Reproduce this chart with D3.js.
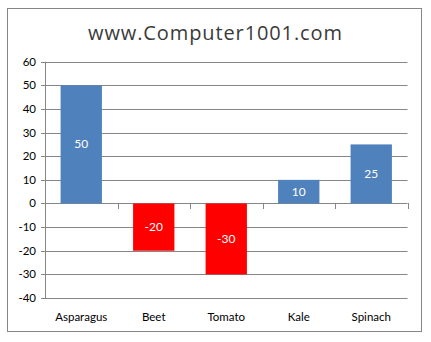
<!DOCTYPE html>
<html>
<head>
<meta charset="utf-8">
<script src="https://cdn.jsdelivr.net/npm/d3@7"></script>
<style>
  body { margin: 0; background: #fff; }
  text { font-family: Lato, "Open Sans", sans-serif; }
</style>
</head>
<body>
<div id="chart"></div>
<script>
// Chart data
const categories = ["Asparagus", "Beet", "Tomato", "Kale", "Spinach"];
const values = [50, -20, -30, 10, 25];
const yTicks = [60, 50, 40, 30, 20, 10, 0, -10, -20, -30, -40];

const width = 431;
const height = 342;

// Create the SVG container
const svg = d3.select("#chart")
  .append("svg")
  .attr("width", width)
  .attr("height", height);

// Outer border
svg.append("rect")
  .attr("x", 7.5)
  .attr("y", 8.5)
  .attr("width", 414)
  .attr("height", 323)
  .attr("fill", "#fff")
  .attr("stroke", "#868686");

// Title
svg.append("text")
  .attr("x", 215)
  .attr("y", 40)
  .attr("text-anchor", "middle")
  .style("font-family", "'Open Sans', sans-serif")
  .attr("font-size", 20)
  .attr("textLength", 254)
  .attr("lengthAdjust", "spacing")
  .attr("fill", "#3a3a3a")
  .text("www.Computer1001.com");

// Scales
const xScale = d3.scaleBand()
  .domain(categories)
  .range([45, 407.5])
  .paddingInner(0.43)
  .paddingOuter(0.215);

const yScale = d3.scaleLinear()
  .domain([-40, 60])
  .range([298, 61.7]);

// Gridlines
svg.append("g")
  .selectAll("line")
  .data(yTicks)
  .enter()
  .append("line")
  .attr("x1", 41)
  .attr("x2", 407.5)
  .attr("y1", d => Math.round(yScale(d)) + 0.5)
  .attr("y2", d => Math.round(yScale(d)) + 0.5)
  .attr("stroke", "#868686");

// Y axis line
svg.append("line")
  .attr("x1", 45.5).attr("x2", 45.5)
  .attr("y1", yScale(60)).attr("y2", yScale(-40) + 0.5)
  .attr("stroke", "#868686");

// Y tick labels
svg.append("g")
  .selectAll("text")
  .data(yTicks)
  .enter()
  .append("text")
  .attr("x", 36)
  .attr("y", d => yScale(d) + 4)
  .attr("text-anchor", "end")
  .attr("font-size", 11.5)
  .attr("fill", "#000")
  .text(d => d);

// Bars
svg.append("g")
  .selectAll("rect")
  .data(values)
  .enter()
  .append("rect")
  .attr("x", (d, i) => xScale(categories[i]))
  .attr("y", d => yScale(Math.max(0, d)))
  .attr("width", xScale.bandwidth())
  .attr("height", d => Math.abs(yScale(d) - yScale(0)))
  .attr("fill", d => d < 0 ? "#ff0000" : "#4f81bd");

// Category ticks on zero line
svg.append("g")
  .selectAll("line")
  .data(d3.range(1, categories.length + 1))
  .enter()
  .append("line")
  .attr("x1", i => Math.round(45 + i * 72.5) + 0.5)
  .attr("x2", i => Math.round(45 + i * 72.5) + 0.5)
  .attr("y1", Math.round(yScale(0)))
  .attr("y2", Math.round(yScale(0)) + 6)
  .attr("stroke", "#868686");

// Value labels
svg.append("g")
  .selectAll("text")
  .data(values)
  .enter()
  .append("text")
  .attr("x", (d, i) => xScale(categories[i]) + xScale.bandwidth() / 2)
  .attr("y", d => (yScale(d) + yScale(0)) / 2 + 4)
  .attr("text-anchor", "middle")
  .attr("font-size", 12)
  .attr("fill", "#fff")
  .text(d => d);

// Category labels
svg.append("g")
  .selectAll("text")
  .data(categories)
  .enter()
  .append("text")
  .attr("x", d => xScale(d) + xScale.bandwidth() / 2)
  .attr("y", 321)
  .attr("text-anchor", "middle")
  .attr("font-size", 11.5)
  .attr("fill", "#000")
  .text(d => d);
</script>
</body>
</html>
